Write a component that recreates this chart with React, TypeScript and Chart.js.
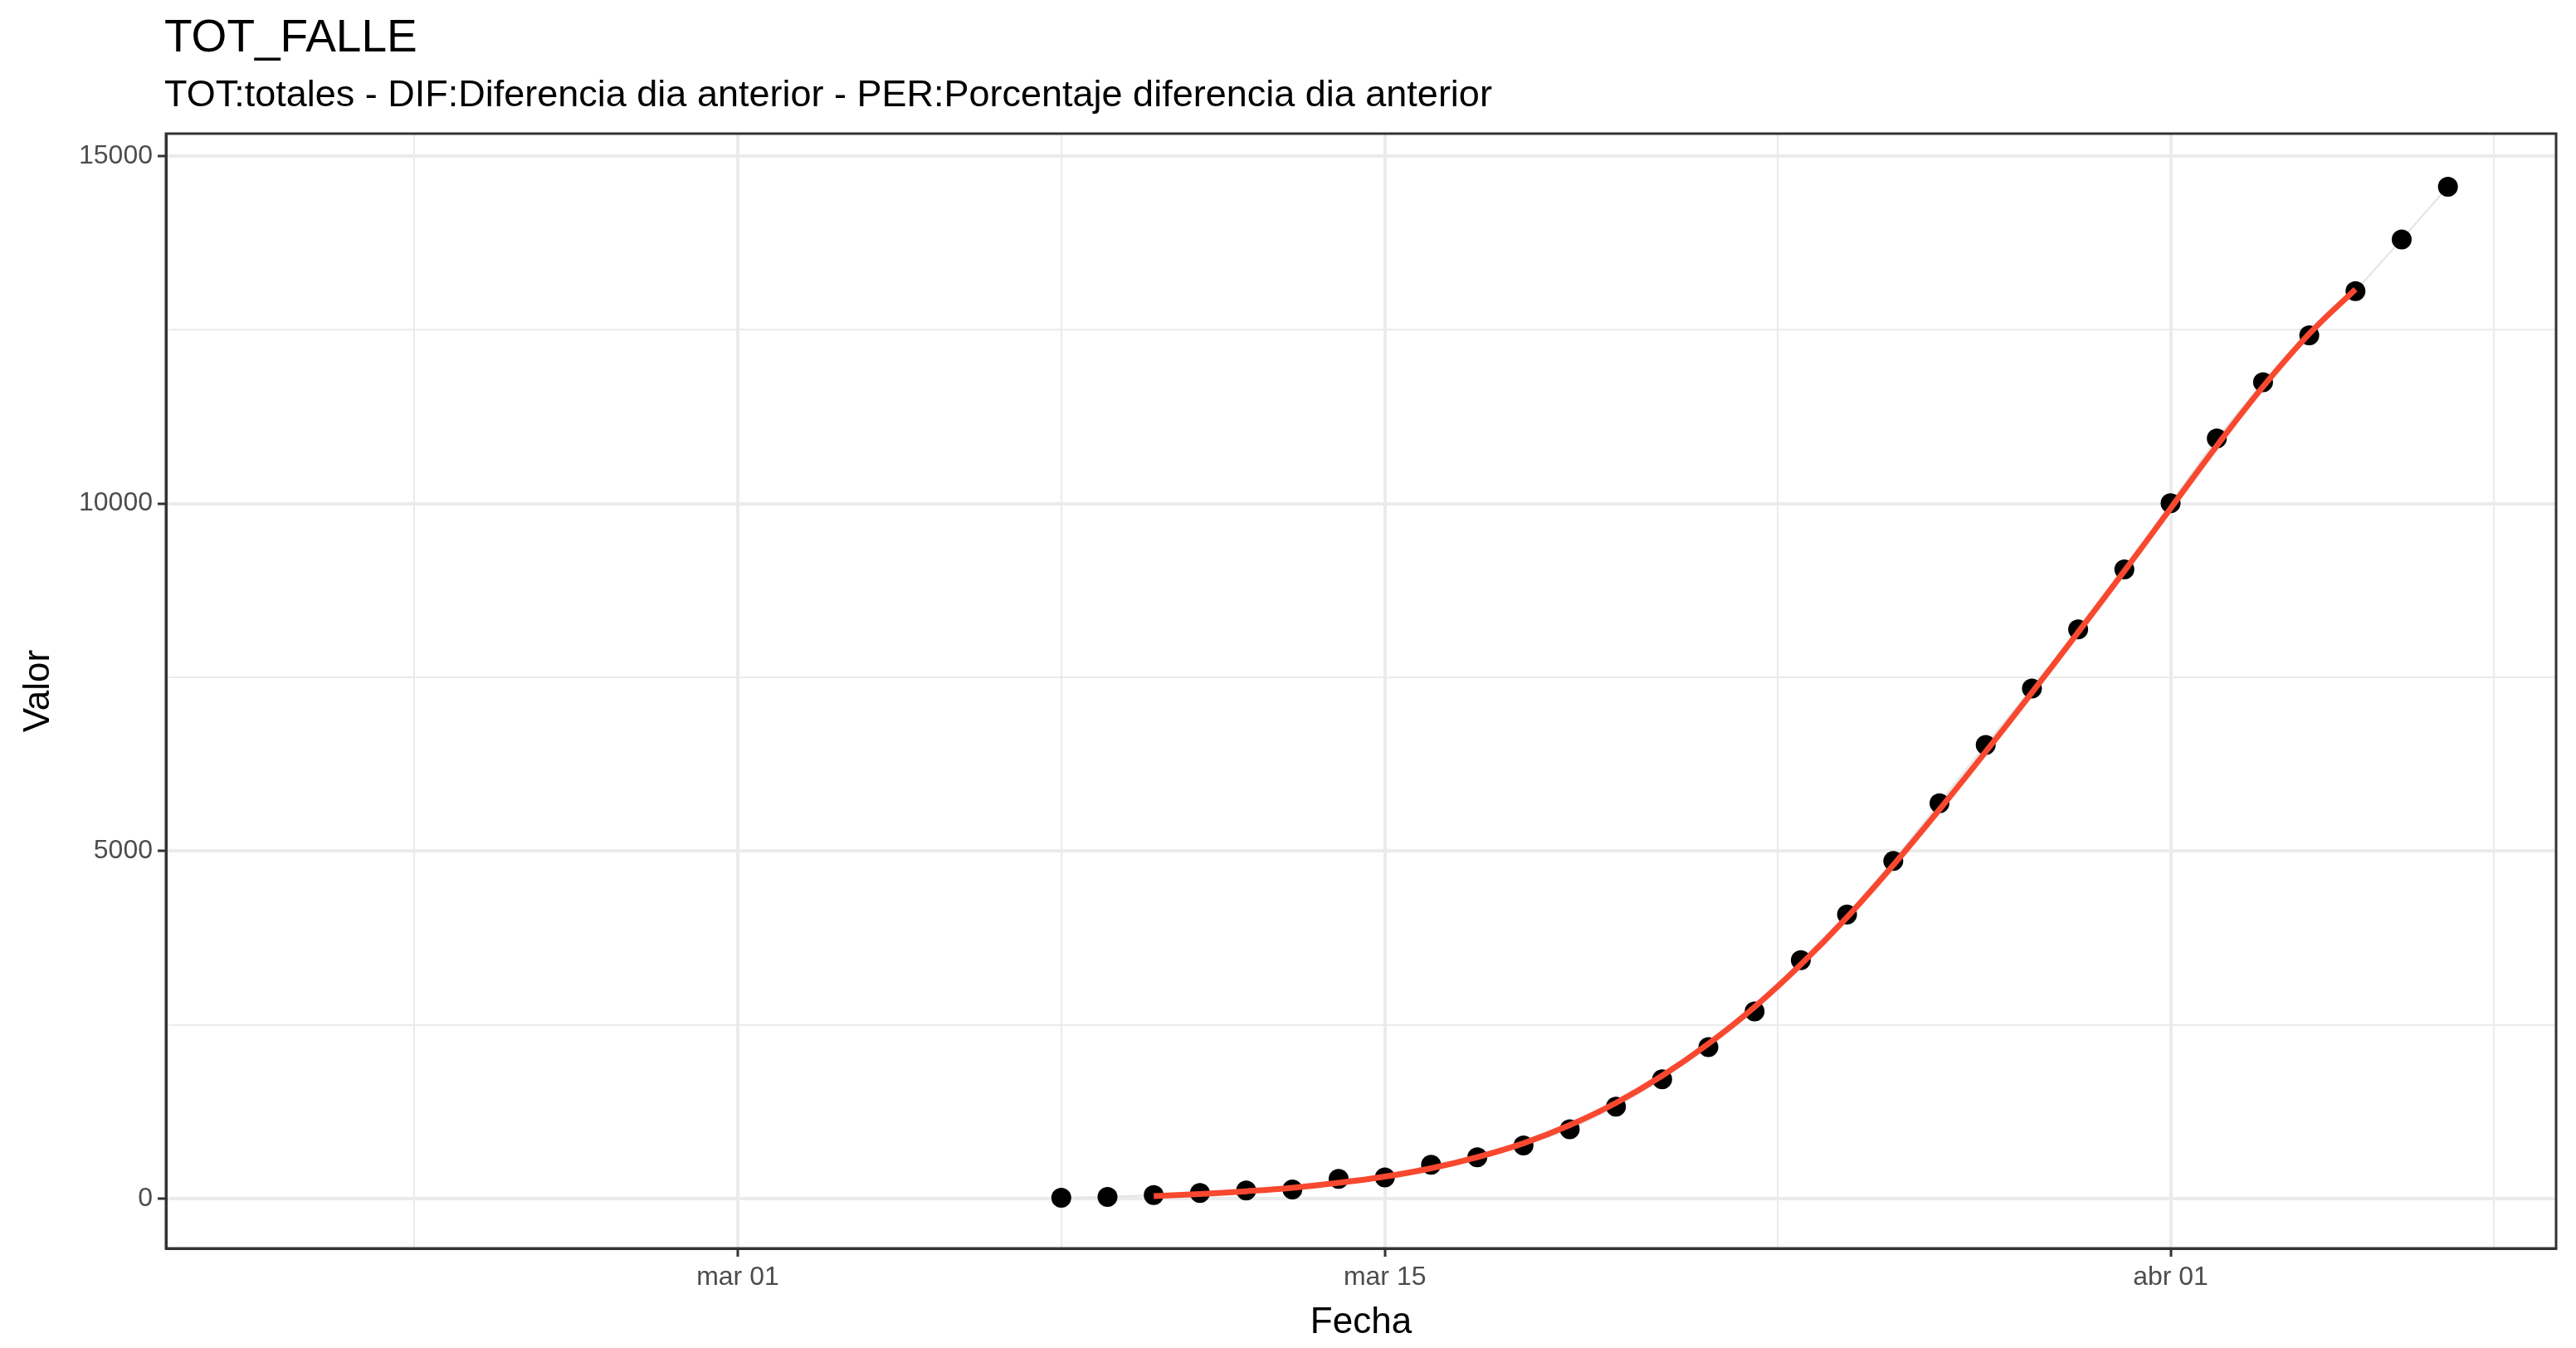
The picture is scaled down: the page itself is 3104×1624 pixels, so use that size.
import React, { useEffect, useRef } from "react";
import { Chart, registerables } from "chart.js";
Chart.register(...registerables);

const dates = ["2020-03-08","2020-03-09","2020-03-10","2020-03-11","2020-03-12","2020-03-13","2020-03-14","2020-03-15","2020-03-16","2020-03-17","2020-03-18","2020-03-19","2020-03-20","2020-03-21","2020-03-22","2020-03-23","2020-03-24","2020-03-25","2020-03-26","2020-03-27","2020-03-28","2020-03-29","2020-03-30","2020-03-31","2020-04-01","2020-04-02","2020-04-03","2020-04-04","2020-04-05","2020-04-06","2020-04-07"];
const values = [17,28,54,84,121,136,288,309,491,598,767,1002,1326,1720,2182,2696,3434,4089,4858,5690,6528,7340,8189,9053,10003,10935,11744,12418,13055,13798,14555];
const fitDates = dates.slice(2, 29);
const fitValues = [40,70,110,160,230,320,440,600,800,1060,1380,1770,2230,2760,3370,4050,4800,5600,6430,7280,8150,9030,9930,10830,11680,12440,13080];
const xTickDates = ["2020-02-23","2020-03-01","2020-03-08","2020-03-15","2020-03-23T12:00","2020-04-01","2020-04-08"];
const xTickLabels: Record<string, string> = { "2020-03-01": "mar 01", "2020-03-15": "mar 15", "2020-04-01": "abr 01" };
const yTicks = [0,2500,5000,7500,10000,12500,15000];
const yLabelTicks = [0,5000,10000,15000];
const TITLE = "TOT_FALLE";
const SUBTITLE = "TOT:totales - DIF:Diferencia dia anterior - PER:Porcentaje diferencia dia anterior";

const ORIGIN = Date.UTC(2020, 2, 1);
const day = (s: string) => (Date.parse(s + (s.includes("T") ? "Z" : "T00:00Z")) - ORIGIN) / 86400000;
const FONT = "'Liberation Sans', Arial, sans-serif";

export default function App() {
  const ref = useRef<HTMLCanvasElement>(null);
  useEffect(() => {
    const xt = xTickDates.map(day);
    const majorX = new Map(Object.keys(xTickLabels).map(k => [day(k), xTickLabels[k]]));
    const deco = {
      id: "deco",
      afterDraw(c: any) {
        const ctx = c.ctx; const { left, right, top, bottom } = c.chartArea;
        ctx.save(); ctx.fillStyle = "#000"; ctx.textBaseline = "alphabetic"; ctx.textAlign = "left";
        ctx.font = `55px ${FONT}`; ctx.fillText(TITLE, left - 2, 62);
        ctx.font = `45px ${FONT}`; ctx.fillText(SUBTITLE, left - 2, 128);
        ctx.strokeStyle = "#333"; ctx.lineWidth = 3; ctx.strokeRect(left, top, right - left, bottom - top);
        ctx.restore();
      },
    };
    const chart = new Chart(ref.current!, {
      type: "scatter",
      data: {
        datasets: [
          { type: "line", data: fitDates.map((d, i) => ({ x: day(d), y: fitValues[i] })), borderColor: "#F8482F", borderWidth: 7, pointRadius: 0, tension: 0.4, order: 0 },
          { type: "line", data: dates.map((d, i) => ({ x: day(d), y: values[i] })), borderColor: "#e3e3e3", borderWidth: 2, pointRadius: 12, pointBackgroundColor: "#000", pointBorderWidth: 0, order: 1 },
        ],
      },
      plugins: [deco],
      options: {
        responsive: false, animation: false, devicePixelRatio: 1,
        layout: { padding: { top: 161, right: 24, left: 0, bottom: 0 } },
        plugins: { legend: { display: false }, tooltip: { enabled: false } },
        scales: {
          x: {
            type: "linear", min: -12.37, max: 39.34,
            afterBuildTicks: (s: any) => { s.ticks = xt.map(v => ({ value: v })); },
            afterFit: (s: any) => { s.height = 120; },
            ticks: { autoSkip: false, maxRotation: 0, color: "#4d4d4d", font: { family: FONT, size: 32 }, padding: 6, callback: (v: any) => majorX.get(v) ?? "" },
            grid: { color: "#ebebeb", lineWidth: (c: any) => (majorX.has(c.tick?.value) ? 4 : 2), tickColor: (c: any) => (majorX.has(c.tick?.value) ? "#333" : "rgba(0,0,0,0)"), tickLength: 10, tickWidth: 3 },
            border: { color: "#333", width: 3 },
            title: { display: true, text: "Fecha", color: "#000", font: { family: FONT, size: 44 }, padding: { top: 2 } },
          },
          y: {
            min: -712, max: 15319,
            afterBuildTicks: (s: any) => { s.ticks = yTicks.map(v => ({ value: v })); },
            afterFit: (s: any) => { s.width = 200; },
            ticks: { color: "#4d4d4d", font: { family: FONT, size: 32 }, padding: 6, callback: (v: any) => (yLabelTicks.includes(v) ? String(v) : "") },
            grid: { color: "#ebebeb", lineWidth: (c: any) => (yLabelTicks.includes(c.tick?.value) ? 4 : 2), tickColor: (c: any) => (yLabelTicks.includes(c.tick?.value) ? "#333" : "rgba(0,0,0,0)"), tickLength: 10, tickWidth: 3 },
            border: { color: "#333", width: 3 },
            title: { display: true, text: "Valor", color: "#000", font: { family: FONT, size: 44 }, padding: { top: 20, bottom: 0 } },
          },
        },
      },
    } as any);
    return () => chart.destroy();
  }, []);
  return (
    <div style={{ position: "fixed", left: 0, top: 0, width: 3104, height: 1624, background: "#fff" }}>
      <canvas ref={ref} width={3104} height={1624} style={{ width: 3104, height: 1624, display: "block" }} />
    </div>
  );
}
